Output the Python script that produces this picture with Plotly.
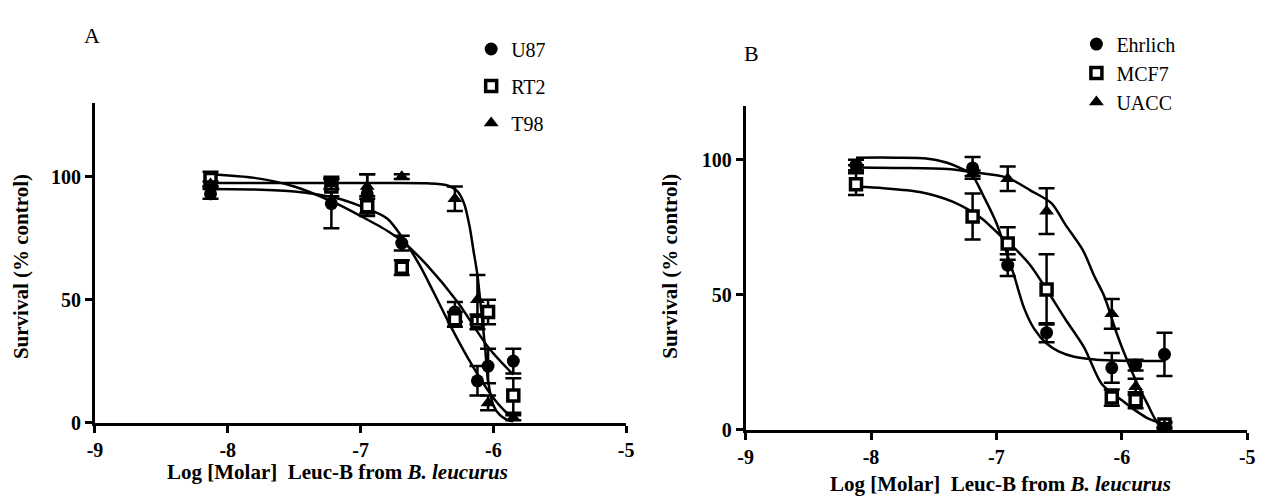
import plotly.graph_objects as go

# ---------------- Panel A data ----------------
x_A = [-8.13, -7.22, -6.95, -6.69, -6.29, -6.12, -6.04, -5.85]
u87 = [93, 89, 93, 73, 45, 17, 23, 25]
u87_err = [2, 10, 8, 3, 4, 6, 7, 5]
rt2 = [99, 96, 88, 63, 42, 41, 45, 11]
rt2_err = [3, 4, 4, 3, 3, 3, 5, 7]
t98 = [97, 97, 96, 100, 91, 50, 8, 2]
t98_err = [1, 2, 5, 1, 5, 10, 3, 1]

# fitted curves
u87_fit_x = [-8.13, -7.8, -7.5, -7.2, -7.0, -6.8, -6.67, -6.55, -6.45, -6.32, -6.2, -6.1, -6.0, -5.9, -5.85]
u87_fit_y = [95, 94.8, 94, 91.5, 88, 83, 74, 63.5, 53, 39, 27, 18, 10, 4, 2]
rt2_fit_x = [-8.13, -7.8, -7.5, -7.2, -7.0, -6.8, -6.67, -6.5, -6.27, -6.03, -5.85]
rt2_fit_y = [101, 99.5, 96, 89.5, 84, 78, 73, 64, 49, 30, 19.5]
t98_fit_x = [-8.13, -7.0, -6.5, -6.35, -6.27, -6.22, -6.18, -6.15, -6.12, -6.10, -6.08, -6.06, -6.04, -6.0, -5.95, -5.9, -5.85]
t98_fit_y = [97.4, 97.4, 97.3, 96.5, 94, 89, 80, 70, 60, 50, 40, 29, 17, 7, 3, 1.2, 0.4]

# ---------------- Panel B data ----------------
x_B = [-8.12, -7.19, -6.91, -6.60, -6.08, -5.89, -5.66]
ehrlich = [98, 97, 61, 36, 23, 24, 28]
ehrlich_err = [2, 4, 4, 3.5, 5.5, 2, 8]
mcf7 = [91, 79, 69, 52, 12, 11, 2]
mcf7_err = [4, 8.5, 6, 13, 3, 3, 1]
uacc = [97, 95, 93, 81, 43, 16, 1.5]
uacc_err = [1, 1, 4.5, 8.5, 5.5, 3, 1]

ehrlich_fit_x = [-8.12, -7.8, -7.56, -7.4, -7.3, -7.2, -7.1, -7.0, -6.92, -6.86, -6.78, -6.7, -6.6, -6.5, -6.38, -6.2, -6.0, -5.8, -5.66]
ehrlich_fit_y = [100.8, 100.8, 100.5, 99, 97.2, 94.7, 86.3, 76.6, 65.8, 57.3, 45.2, 37.5, 32, 29, 27.1, 26, 25.6, 25.5, 25.5]
mcf7_fit_x = [-8.12, -7.9, -7.61, -7.35, -7.12, -6.97, -6.85, -6.73, -6.6, -6.45, -6.3, -6.16, -6.0, -5.91, -5.8, -5.66]
mcf7_fit_y = [90, 89.5, 88.1, 84.5, 78.4, 72, 67, 61, 52, 41, 30.5, 17, 11, 7.8, 4.5, 2]
uacc_fit_x = [-8.12, -7.8, -7.39, -7.2, -6.92, -6.73, -6.56, -6.45, -6.31, -6.22, -6.14, -6.05, -5.99, -5.88, -5.8, -5.72, -5.66]
uacc_fit_y = [97.2, 97, 96.6, 95.5, 93.5, 88.7, 83.9, 76, 66.5, 57, 49.5, 37, 29.5, 17.5, 10, 3, 1]

x_ticks = [-9, -8, -7, -6, -5]
y_ticks = [0, 50, 100]

SERIF = "Liberation Serif, Times New Roman, Times, serif"
W, H = 1264, 497

fig = go.Figure()

line_style = dict(color="black", width=2.5, shape="spline", smoothing=0.8)
err_style = dict(type="data", visible=True, color="black", thickness=2.5, width=8)


def add_series(x, y, err, fx, fy, name, symbol, fill, xa, ya, legend):
    fig.add_trace(go.Scatter(x=fx, y=fy, mode="lines", line=line_style,
                             showlegend=False, xaxis=xa, yaxis=ya, hoverinfo="skip"))
    fig.add_trace(go.Scatter(
        x=x, y=y, mode="markers", name=name,
        error_y=dict(array=err, **err_style),
        marker=dict(symbol=symbol, size=13 if symbol != "square" else 11,
                    color=fill, line=dict(color="black", width=3.5 if symbol == "square" else 0)),
        xaxis=xa, yaxis=ya, legend=legend, legendgroup=name))


add_series(x_A, u87, u87_err, u87_fit_x, u87_fit_y, "U87", "circle", "black", "x", "y", "legend")
add_series(x_A, rt2, rt2_err, rt2_fit_x, rt2_fit_y, "RT2", "square", "white", "x", "y", "legend")
add_series(x_A, t98, t98_err, t98_fit_x, t98_fit_y, "T98", "triangle-up", "black", "x", "y", "legend")

add_series(x_B, ehrlich, ehrlich_err, ehrlich_fit_x, ehrlich_fit_y, "Ehrlich", "circle", "black", "x2", "y2", "legend2")
add_series(x_B, mcf7, mcf7_err, mcf7_fit_x, mcf7_fit_y, "MCF7", "square", "white", "x2", "y2", "legend2")
add_series(x_B, uacc, uacc_err, uacc_fit_x, uacc_fit_y, "UACC", "triangle-up", "black", "x2", "y2", "legend2")

axis_common = dict(showline=True, linecolor="black", linewidth=3, ticks="outside",
                   tickcolor="black", tickwidth=2.5, ticklen=7, showgrid=False,
                   zeroline=False, mirror=False,
                   tickfont=dict(family=SERIF, size=20, color="black"))

xtt = ["<b>%d</b>" % v for v in x_ticks]
ytt = ["<b>%d</b>" % v for v in y_ticks]

fig.update_layout(
    width=W, height=H,
    margin=dict(l=0, r=0, t=0, b=0),
    paper_bgcolor="white", plot_bgcolor="white",
    xaxis=dict(domain=[80 / W, 618 / W], range=[-9, -5], tickvals=x_ticks, ticktext=xtt,
               anchor="y", **axis_common),
    yaxis=dict(domain=[1 - 424 / H, 1 - 97 / H], range=[0, 130], tickvals=y_ticks, ticktext=ytt,
               anchor="x", **axis_common),
    xaxis2=dict(domain=[739 / W, 1247 / W], range=[-9, -5], tickvals=x_ticks, ticktext=xtt,
                anchor="y2", **axis_common),
    yaxis2=dict(domain=[1 - 431.5 / H, 1 - 100 / H], range=[0, 120], tickvals=y_ticks, ticktext=ytt,
                anchor="x2", **axis_common),
    legend=dict(x=461 / W, y=1 - 22 / H, xanchor="left", yanchor="top",
                font=dict(family=SERIF, size=20, color="black"),
                tracegroupgap=8, traceorder="grouped", bgcolor="rgba(0,0,0,0)"),
    legend2=dict(x=1074 / W, y=1 - 17 / H, xanchor="left", yanchor="top",
                 font=dict(family=SERIF, size=20, color="black"),
                 tracegroupgap=0, traceorder="grouped", bgcolor="rgba(0,0,0,0)"),
    showlegend=True,
)

title_font = dict(family=SERIF, size=21, color="black")
xt = "<b>Log [Molar]  Leuc-B from <i>B. leucurus</i></b>"
yt = "<b>Survival (% control)</b>"
annotations = [
    dict(text=xt, x=326 / W, y=1 - 475 / H, xref="paper", yref="paper",
         showarrow=False, font=title_font, xanchor="center", yanchor="middle"),
    dict(text=xt, x=997 / W, y=1 - 487 / H, xref="paper", yref="paper",
         showarrow=False, font=title_font, xanchor="center", yanchor="middle"),
    dict(text=yt, x=5 / W, y=1 - 264 / H, xref="paper", yref="paper", textangle=-90,
         showarrow=False, font=title_font, xanchor="center", yanchor="middle"),
    dict(text=yt, x=663 / W, y=1 - 264 / H, xref="paper", yref="paper", textangle=-90,
         showarrow=False, font=title_font, xanchor="center", yanchor="middle"),
    dict(text="A", x=77 / W, y=1 - 28 / H, xref="paper", yref="paper",
         showarrow=False, font=dict(family=SERIF, size=22, color="black"),
         xanchor="center", yanchor="middle"),
    dict(text="B", x=745 / W, y=1 - 47 / H, xref="paper", yref="paper",
         showarrow=False, font=dict(family=SERIF, size=22, color="black"),
         xanchor="center", yanchor="middle"),
]
fig.update_layout(annotations=annotations)

fig.write_html("out.html")
